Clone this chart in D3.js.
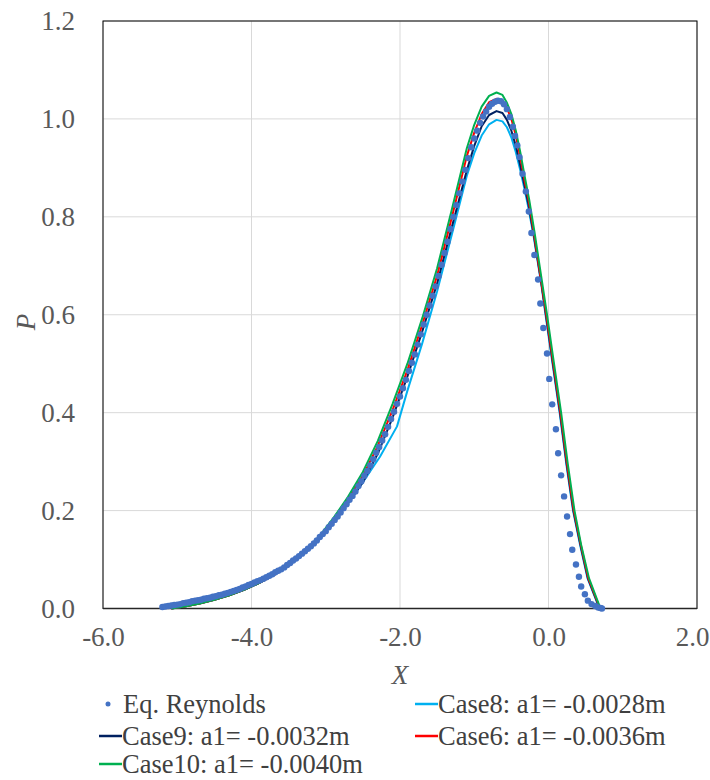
<!DOCTYPE html>
<html>
<head>
<meta charset="utf-8">
<script src="https://cdnjs.cloudflare.com/ajax/libs/d3/7.8.5/d3.min.js"></script>
<style>
  body { margin: 0; background: #fff; }
  svg { display: block; }
  svg text { font-family: "Liberation Serif", "Times New Roman", serif; }
</style>
</head>
<body>
<div id="chart"></div>
<script>
// axis ticks
const xTicks = [-6, -4, -2, 0, 2];
const yTicks = [0, 0.2, 0.4, 0.6, 0.8, 1.0, 1.2];

// Eq. Reynolds (dots) [X, P]
const reynolds = [
  [-5.20,0.003],[-5.16,0.004],[-5.12,0.005],[-5.08,0.006],[-5.04,0.007],[-5.00,0.008],
  [-4.96,0.009],[-4.92,0.011],[-4.88,0.012],[-4.84,0.013],[-4.80,0.015],[-4.76,0.016],
  [-4.72,0.017],[-4.68,0.018],[-4.64,0.020],[-4.60,0.021],[-4.56,0.022],[-4.52,0.024],
  [-4.48,0.025],[-4.44,0.027],[-4.40,0.028],[-4.36,0.030],[-4.32,0.032],[-4.28,0.034],
  [-4.24,0.036],[-4.20,0.038],[-4.16,0.040],[-4.12,0.043],[-4.08,0.045],[-4.04,0.048],
  [-4.00,0.050],[-3.96,0.053],[-3.92,0.056],[-3.88,0.058],[-3.84,0.061],[-3.80,0.064],
  [-3.76,0.067],[-3.72,0.070],[-3.68,0.074],[-3.64,0.077],[-3.60,0.080],[-3.56,0.084],
  [-3.52,0.089],[-3.48,0.093],[-3.44,0.098],[-3.40,0.102],[-3.36,0.107],[-3.32,0.112],
  [-3.28,0.117],[-3.24,0.122],[-3.20,0.127],[-3.16,0.133],[-3.12,0.139],[-3.08,0.146],
  [-3.04,0.152],[-3.00,0.158],[-2.96,0.166],[-2.92,0.173],[-2.88,0.181],[-2.84,0.188],
  [-2.80,0.196],[-2.76,0.205],[-2.72,0.213],[-2.68,0.222],[-2.64,0.230],[-2.60,0.239],
  [-2.56,0.250],[-2.52,0.260],[-2.48,0.271],[-2.44,0.281],[-2.40,0.292],[-2.36,0.305],
  [-2.32,0.318],[-2.28,0.330],[-2.24,0.343],[-2.20,0.356],[-2.16,0.371],[-2.12,0.387],
  [-2.08,0.402],[-2.04,0.418],[-2.00,0.433],[-1.96,0.450],[-1.92,0.467],[-1.88,0.485],
  [-1.84,0.502],[-1.80,0.519],[-1.76,0.539],[-1.72,0.560],[-1.68,0.580],[-1.64,0.600],
  [-1.60,0.619],[-1.56,0.639],[-1.52,0.658],[-1.48,0.679],[-1.44,0.702],[-1.40,0.726],
  [-1.36,0.749],[-1.32,0.775],[-1.28,0.800],[-1.24,0.824],[-1.20,0.848],[-1.16,0.872],
  [-1.12,0.896],[-1.08,0.920],[-1.04,0.942],[-1.00,0.960],[-0.96,0.976],[-0.92,0.992],
  [-0.88,1.005],[-0.84,1.015],[-0.80,1.025],[-0.76,1.031],[-0.72,1.035],[-0.68,1.037],
  [-0.64,1.036],[-0.60,1.030],[-0.56,1.020],[-0.52,1.004],[-0.48,0.984],[-0.45,0.965],
  [-0.42,0.946],[-0.39,0.922],[-0.35,0.888],[-0.305,0.852],[-0.265,0.811],[-0.23,0.767],
  [-0.19,0.722],[-0.14,0.672],[-0.11,0.623],[-0.07,0.573],[-0.02,0.521],[0.01,0.469],
  [0.05,0.417],[0.10,0.366],[0.13,0.317],[0.17,0.272],[0.21,0.229],[0.25,0.188],
  [0.29,0.152],[0.32,0.120],[0.37,0.090],[0.41,0.065],[0.44,0.045],[0.49,0.029],
  [0.53,0.016],[0.58,0.009],[0.63,0.005],[0.67,0.002],[0.70,0.001],[0.72,0.000]
];

// Case8: a1 = -0.0028m
const case8 = [
  [-5.08,0.000],[-4.90,0.004],[-4.70,0.010],[-4.50,0.018],[-4.30,0.027],[-4.10,0.038],
  [-3.90,0.052],[-3.70,0.068],[-3.50,0.088],[-3.30,0.112],[-3.10,0.141],[-2.90,0.178],
  [-2.70,0.214],[-2.50,0.258],[-2.27,0.310],[-2.04,0.372],[-1.90,0.445],[-1.70,0.542],
  [-1.50,0.648],[-1.30,0.765],[-1.10,0.884],[-1.00,0.930],[-0.90,0.966],[-0.80,0.989],
  [-0.70,0.998],[-0.62,0.995],[-0.56,0.983],[-0.50,0.962],[-0.44,0.932],[-0.38,0.895],
  [-0.32,0.855],[-0.27,0.818],[-0.20,0.760],[-0.10,0.665],[-0.04,0.600],[0.04,0.515],
  [0.15,0.400],[0.24,0.295],[0.33,0.200],[0.425,0.130],[0.525,0.062],[0.685,0.000]
];

// Case9: a1 = -0.0032m
const case9 = [
  [-5.08,0.000],[-4.90,0.004],[-4.70,0.010],[-4.50,0.018],[-4.30,0.027],[-4.10,0.038],
  [-3.90,0.052],[-3.70,0.068],[-3.50,0.088],[-3.30,0.112],[-3.10,0.141],[-2.90,0.178],
  [-2.70,0.215],[-2.50,0.258],[-2.30,0.316],[-2.10,0.390],[-1.90,0.474],[-1.70,0.566],
  [-1.50,0.664],[-1.30,0.780],[-1.10,0.895],[-1.00,0.945],[-0.90,0.985],[-0.80,1.008],
  [-0.70,1.016],[-0.62,1.012],[-0.56,0.998],[-0.50,0.976],[-0.44,0.945],[-0.38,0.905],
  [-0.32,0.862],[-0.27,0.825],[-0.20,0.765],[-0.10,0.668],[-0.035,0.600],[0.045,0.515],
  [0.155,0.400],[0.245,0.295],[0.335,0.200],[0.43,0.130],[0.53,0.062],[0.69,0.000]
];

// Case6: a1 = -0.0036m
const case6 = [
  [-5.08,0.000],[-4.90,0.004],[-4.70,0.010],[-4.50,0.018],[-4.30,0.027],[-4.10,0.038],
  [-3.90,0.052],[-3.70,0.068],[-3.50,0.089],[-3.30,0.113],[-3.10,0.142],[-2.90,0.181],
  [-2.70,0.223],[-2.50,0.271],[-2.30,0.332],[-2.10,0.405],[-1.90,0.487],[-1.70,0.580],
  [-1.50,0.680],[-1.30,0.800],[-1.10,0.924],[-1.00,0.972],[-0.90,1.010],[-0.80,1.034],
  [-0.70,1.041],[-0.62,1.036],[-0.56,1.022],[-0.50,1.000],[-0.44,0.966],[-0.38,0.922],
  [-0.32,0.872],[-0.27,0.835],[-0.20,0.770],[-0.10,0.670],[-0.03,0.600],[0.05,0.515],
  [0.16,0.400],[0.25,0.295],[0.34,0.200],[0.435,0.130],[0.535,0.062],[0.695,0.000]
];

// Case10: a1 = -0.0040m
const case10 = [
  [-5.08,0.000],[-4.90,0.004],[-4.70,0.010],[-4.50,0.018],[-4.30,0.027],[-4.10,0.038],
  [-3.90,0.052],[-3.70,0.069],[-3.50,0.090],[-3.30,0.115],[-3.10,0.145],[-2.90,0.184],
  [-2.70,0.228],[-2.50,0.279],[-2.30,0.342],[-2.10,0.418],[-1.90,0.500],[-1.70,0.593],
  [-1.50,0.695],[-1.30,0.816],[-1.10,0.940],[-1.00,0.988],[-0.90,1.025],[-0.80,1.047],
  [-0.70,1.054],[-0.62,1.049],[-0.56,1.033],[-0.50,1.010],[-0.44,0.976],[-0.38,0.932],
  [-0.32,0.882],[-0.26,0.835],[-0.19,0.770],[-0.09,0.670],[-0.02,0.600],[0.06,0.515],
  [0.17,0.400],[0.26,0.295],[0.35,0.200],[0.44,0.130],[0.545,0.062],[0.70,0.000]
];

const lineSeries = [
  { name: "Case8: a1= -0.0028m", color: "#00B0F0", data: case8 },
  { name: "Case9: a1= -0.0032m", color: "#002060", data: case9 },
  { name: "Case6: a1= -0.0036m", color: "#FF0000", data: case6 },
  { name: "Case10: a1= -0.0040m", color: "#00B050", data: case10 }
];

const width = 710, height = 780;
const plot = { left: 103, right: 697, top: 21, bottom: 608.5 };
const font = "Liberation Serif, Times New Roman, serif";

const svg = d3.select("#chart").append("svg")
    .attr("width", width)
    .attr("height", height);

const x = d3.scaleLinear().domain([-6, 2]).range([plot.left, plot.right]);
const y = d3.scaleLinear().domain([0, 1.2]).range([plot.bottom, plot.top]);

// gridlines
svg.append("g")
    .selectAll("line.vgrid")
    .data(xTicks)
    .enter().append("line")
    .attr("x1", d => x(d)).attr("x2", d => x(d))
    .attr("y1", plot.top).attr("y2", plot.bottom)
    .attr("stroke", "#d9d9d9").attr("stroke-width", 1);

svg.append("g")
    .selectAll("line.hgrid")
    .data(yTicks)
    .enter().append("line")
    .attr("x1", plot.left).attr("x2", plot.right)
    .attr("y1", d => y(d)).attr("y2", d => y(d))
    .attr("stroke", "#d9d9d9").attr("stroke-width", 1);

// plot frame
svg.append("rect")
    .attr("x", plot.left).attr("y", plot.top)
    .attr("width", plot.right - plot.left)
    .attr("height", plot.bottom - plot.top)
    .attr("fill", "none")
    .attr("stroke", "#000")
    .attr("stroke-width", 1);

// axes (labels only)
const fmt = d => d3.format(".1f")(d).replace("\u2212", "-");
const xAxis = svg.append("g")
    .attr("transform", `translate(0,${plot.bottom})`)
    .call(d3.axisBottom(x).tickValues(xTicks).tickFormat(fmt).tickSize(0).tickPadding(18));
const yAxis = svg.append("g")
    .attr("transform", `translate(${plot.left},0)`)
    .call(d3.axisLeft(y).tickValues(yTicks).tickFormat(fmt).tickSize(0).tickPadding(28));

[xAxis, yAxis].forEach(a => {
    a.attr("font-family", font).attr("font-size", 27);
    a.select(".domain").remove();
    a.selectAll("text")
        .attr("font-family", font)
        .style("font-size", "27px")
        .attr("fill", "#595959");
});
// last x label kept inside the picture, as in the reference
xAxis.selectAll(".tick").filter(d => d === 2).select("text")
    .attr("text-anchor", "end")
    .attr("x", 710 - x(2) - 1);

// bottom axis line
svg.append("line")
    .attr("x1", plot.left).attr("x2", plot.right)
    .attr("y1", plot.bottom).attr("y2", plot.bottom)
    .attr("stroke", "#262626").attr("stroke-width", 1.5);

// axis titles
svg.append("text")
    .attr("x", 400).attr("y", 684)
    .attr("text-anchor", "middle")
    .attr("font-family", font).style("font-size", "27px").style("font-style", "italic")
    .attr("fill", "#595959")
    .text("X");

svg.append("text")
    .attr("transform", `translate(35,322) rotate(-90)`)
    .attr("text-anchor", "middle")
    .attr("font-family", font).style("font-size", "27px").style("font-style", "italic")
    .attr("fill", "#595959")
    .text("P");

// lines
const line = d3.line()
    .x(d => x(d[0]))
    .y(d => y(d[1]));

svg.append("g")
    .selectAll("path")
    .data(lineSeries)
    .enter().append("path")
    .attr("d", d => line(d.data))
    .attr("fill", "none")
    .attr("stroke", d => d.color)
    .attr("stroke-width", 2)
    .attr("stroke-linejoin", "round");

// dots
svg.append("g")
    .selectAll("circle")
    .data(reynolds)
    .enter().append("circle")
    .attr("cx", d => x(d[0]))
    .attr("cy", d => y(d[1]))
    .attr("r", 3.2)
    .attr("fill", "#4472C4");

// legend
const legendItems = [
    { name: "Eq. Reynolds", type: "dot", color: "#4472C4", x: 100, y: 704 },
    { name: lineSeries[0].name, type: "line", color: lineSeries[0].color, x: 415, y: 704 },
    { name: lineSeries[1].name, type: "line", color: lineSeries[1].color, x: 99, y: 736 },
    { name: lineSeries[2].name, type: "line", color: lineSeries[2].color, x: 415, y: 736 },
    { name: lineSeries[3].name, type: "line", color: lineSeries[3].color, x: 99, y: 764 }
];

const lg = svg.append("g")
    .selectAll("g")
    .data(legendItems)
    .enter().append("g")
    .attr("transform", d => `translate(${d.x},${d.y})`);

lg.filter(d => d.type === "line").append("line")
    .attr("x1", 0).attr("x2", 23)
    .attr("y1", 0).attr("y2", 0)
    .attr("stroke", d => d.color)
    .attr("stroke-width", 2.5);

lg.filter(d => d.type === "dot").append("circle")
    .attr("cx", 8).attr("cy", 0)
    .attr("r", 2.5)
    .attr("fill", d => d.color);

lg.append("text")
    .attr("x", 23)
    .attr("dy", "0.35em")
    .attr("font-family", font)
    .style("font-size", "26.5px")
    .attr("fill", "#404040")
    .text(d => d.name);
</script>
</body>
</html>
